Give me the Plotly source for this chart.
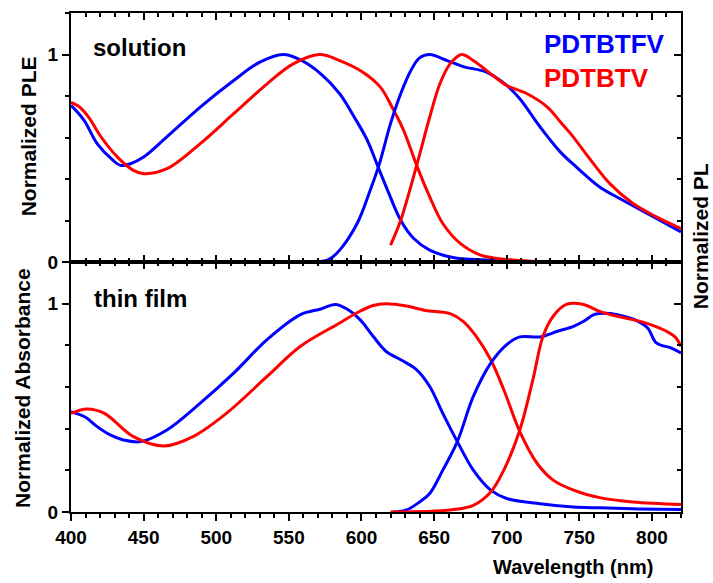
import plotly.graph_objects as go

# ---------------- data (wavelength nm, normalized intensity) ----------------
# solution panel
sol_ple_fv_x = [400, 409, 418, 429, 434, 441, 450, 466, 489, 512, 530, 546, 558, 572, 585, 595, 604, 611, 618, 627, 636, 647, 663, 686, 718]
sol_ple_fv_y = [0.755, 0.683, 0.571, 0.49, 0.466, 0.474, 0.506, 0.603, 0.747, 0.875, 0.963, 1.0, 0.974, 0.907, 0.811, 0.699, 0.587, 0.466, 0.346, 0.202, 0.114, 0.058, 0.022, 0.01, 0.0]

sol_ple_v_x = [400, 405, 412, 420, 432, 443, 450, 466, 489, 512, 535, 553, 571, 585, 601, 613, 621, 629, 638, 647, 656, 668, 682, 700, 730]
sol_ple_v_y = [0.77, 0.752, 0.70, 0.61, 0.506, 0.442, 0.426, 0.45, 0.571, 0.715, 0.859, 0.955, 1.0, 0.971, 0.915, 0.843, 0.747, 0.635, 0.466, 0.314, 0.186, 0.09, 0.034, 0.013, 0.0]

sol_pl_fv_x = [569, 578, 585, 597, 606, 612, 620, 627, 634, 640, 647, 659, 670, 686, 700, 709, 723, 737, 748, 764, 780, 799, 820]
sol_pl_fv_y = [0.0, 0.015, 0.058, 0.186, 0.346, 0.466, 0.667, 0.811, 0.923, 0.984, 1.0, 0.971, 0.942, 0.915, 0.851, 0.787, 0.651, 0.53, 0.458, 0.362, 0.298, 0.226, 0.146]

sol_pl_v_x = [620, 627, 638, 647, 654, 661, 669, 677, 689, 700, 714, 728, 737, 744, 758, 771, 787, 803, 820]
sol_pl_v_y = [0.082, 0.202, 0.466, 0.699, 0.859, 0.955, 1.0, 0.971, 0.907, 0.851, 0.811, 0.747, 0.675, 0.619, 0.49, 0.378, 0.282, 0.218, 0.162]

# thin film panel
film_abs_fv_x = [400, 410, 418, 427, 436, 448, 466, 489, 512, 535, 558, 572, 582, 590, 599, 608, 617, 627, 638, 647, 656, 666, 677, 689, 700, 723, 746, 764, 790, 820]
film_abs_fv_y = [0.482, 0.455, 0.41, 0.37, 0.346, 0.338, 0.394, 0.523, 0.667, 0.828, 0.948, 0.975, 0.997, 0.975, 0.924, 0.844, 0.771, 0.731, 0.683, 0.603, 0.474, 0.338, 0.201, 0.105, 0.065, 0.04, 0.024, 0.02, 0.015, 0.012]

film_abs_v_x = [400, 411, 423, 443, 464, 484, 507, 535, 558, 585, 597, 608, 617, 631, 644, 661, 670, 679, 689, 698, 709, 721, 732, 746, 764, 787, 820]
film_abs_v_y = [0.474, 0.495, 0.474, 0.362, 0.317, 0.362, 0.474, 0.651, 0.796, 0.908, 0.957, 0.992, 1.0, 0.989, 0.968, 0.953, 0.916, 0.844, 0.731, 0.587, 0.386, 0.233, 0.153, 0.105, 0.069, 0.048, 0.036]

film_pl_fv_x = [622, 631, 640, 647, 656, 666, 677, 689, 700, 709, 723, 735, 746, 753, 760, 768, 776, 788, 797, 803, 813, 820]
film_pl_fv_y = [0.0, 0.01, 0.048, 0.089, 0.201, 0.338, 0.555, 0.715, 0.804, 0.841, 0.841, 0.868, 0.892, 0.916, 0.948, 0.955, 0.948, 0.924, 0.884, 0.812, 0.788, 0.764]

film_pl_v_x = [620, 661, 677, 689, 698, 709, 718, 725, 732, 741, 753, 763, 776, 787, 799, 810, 816, 820]
film_pl_v_y = [0.0, 0.01, 0.032, 0.096, 0.201, 0.394, 0.635, 0.844, 0.94, 0.997, 0.997, 0.966, 0.94, 0.924, 0.9, 0.868, 0.84, 0.796]

x_range = [400, 820]
y_range = [0, 1.2]
y_ticks = [0, 1]
y_ticktext = ["0", "1"]
panel_labels = ["solution", "thin film"]
series_names = ["PDTBTFV", "PDTBTV"]

BLUE = "#0000FF"
RED = "#FF0000"
FONT = "Liberation Sans, Arial, Helvetica, sans-serif"

fig = go.Figure()

def add_line(x, y, color, xa, ya):
    fig.add_trace(go.Scatter(x=x, y=y, mode="lines", xaxis=xa, yaxis=ya,
                             line=dict(color=color, width=3, shape="spline", smoothing=1.0),
                             showlegend=False, hoverinfo="skip"))

add_line(sol_ple_fv_x, sol_ple_fv_y, BLUE, "x", "y")
add_line(sol_ple_v_x, sol_ple_v_y, RED, "x", "y")
add_line(sol_pl_fv_x, sol_pl_fv_y, BLUE, "x", "y")
add_line(sol_pl_v_x, sol_pl_v_y, RED, "x", "y")

add_line(film_abs_fv_x, film_abs_fv_y, BLUE, "x2", "y2")
add_line(film_abs_v_x, film_abs_v_y, RED, "x2", "y2")
add_line(film_pl_fv_x, film_pl_fv_y, BLUE, "x2", "y2")
add_line(film_pl_v_x, film_pl_v_y, RED, "x2", "y2")

# dummy traces so overlay axes get drawn
for xa, ya in [("x3", "y2"), ("x", "y3"), ("x2", "y4")]:
    fig.add_trace(go.Scatter(x=[None], y=[None], xaxis=xa, yaxis=ya, showlegend=False, hoverinfo="skip"))

tickfont = dict(family=FONT, size=19, color="black", weight="bold")
common_line = dict(showline=True, linecolor="black", linewidth=2, showgrid=False, zeroline=False,
                   tickcolor="black", tickwidth=1.5)

xcommon = dict(range=x_range, tick0=400, dtick=50, ticklen=7, **common_line)
xminor = lambda d: dict(dtick=10, tick0=400, ticklen=4, ticks=d, tickcolor="black", tickwidth=1.5)

ycommon = dict(range=y_range, tickvals=y_ticks, ticktext=y_ticktext, ticklen=7, **common_line)
yminor = lambda d: dict(dtick=0.2, tick0=0, ticklen=4, ticks=d, tickcolor="black", tickwidth=1.5)

fig.update_layout(
    width=713, height=583,
    margin=dict(l=71, r=32, t=13, b=71),
    paper_bgcolor="white", plot_bgcolor="white",
    showlegend=False,
    xaxis=dict(anchor="y", domain=[0, 1], ticks="inside", mirror="ticks", showticklabels=False,
               minor=xminor("inside"), **xcommon),
    xaxis2=dict(anchor="y2", domain=[0, 1], ticks="outside", showticklabels=True, tickfont=tickfont,
                minor=xminor("outside"), **xcommon),
    xaxis3=dict(anchor="y2", overlaying="x2", side="top", ticks="inside", showticklabels=False,
                minor=xminor("inside"), **xcommon),
    yaxis=dict(anchor="x", domain=[0.5007, 1], ticks="outside", tickfont=tickfont,
               minor=yminor("outside"), **ycommon),
    yaxis2=dict(anchor="x2", domain=[0, 0.5007], ticks="outside", tickfont=tickfont,
                minor=yminor("outside"), **ycommon),
    yaxis3=dict(anchor="x", overlaying="y", side="right", ticks="inside", showticklabels=False,
                minor=yminor("inside"), **ycommon),
    yaxis4=dict(anchor="x2", overlaying="y2", side="right", ticks="inside", showticklabels=False,
                minor=yminor("inside"), **ycommon),
)

title_font = dict(family=FONT, size=21, color="black", weight="bold")
ann = []
# panel labels
ann.append(dict(text=panel_labels[0], xref="x", yref="y", x=413.6, y=1.034, xanchor="left", yanchor="middle",
                showarrow=False, font=dict(family=FONT, size=24, color="black", weight="bold")))
ann.append(dict(text=panel_labels[1], xref="x2", yref="y2", x=414.3, y=1.026, xanchor="left", yanchor="middle",
                showarrow=False, font=dict(family=FONT, size=24, color="black", weight="bold")))
# series labels
ann.append(dict(text=series_names[0], xref="x", yref="y", x=724, y=1.053, xanchor="left", yanchor="middle",
                showarrow=False, font=dict(family=FONT, size=26, color=BLUE, weight="bold")))
ann.append(dict(text=series_names[1], xref="x", yref="y", x=724, y=0.885, xanchor="left", yanchor="middle",
                showarrow=False, font=dict(family=FONT, size=26, color=RED, weight="bold")))
# axis titles
ann.append(dict(text="Normalized PLE", xref="paper", yref="y", x=0, y=0.606, xshift=-43, textangle=-90,
                xanchor="center", yanchor="middle", showarrow=False, font=title_font))
ann.append(dict(text="Normalized Absorbance", xref="paper", yref="y2", x=0, y=0.596, xshift=-48, textangle=-90,
                xanchor="center", yanchor="middle", showarrow=False, font=title_font))
ann.append(dict(text="Normalized PL", xref="paper", yref="y", x=1, y=0.125, xshift=19, textangle=-90,
                xanchor="center", yanchor="middle", showarrow=False, font=title_font))
ann.append(dict(text="Wavelength (nm)", xref="x2", yref="paper", x=745.8, y=0, yshift=-55,
                xanchor="center", yanchor="middle", showarrow=False,
                font=dict(family=FONT, size=20, color="black", weight="bold")))
fig.update_layout(annotations=ann)

fig.write_html("out.html")
